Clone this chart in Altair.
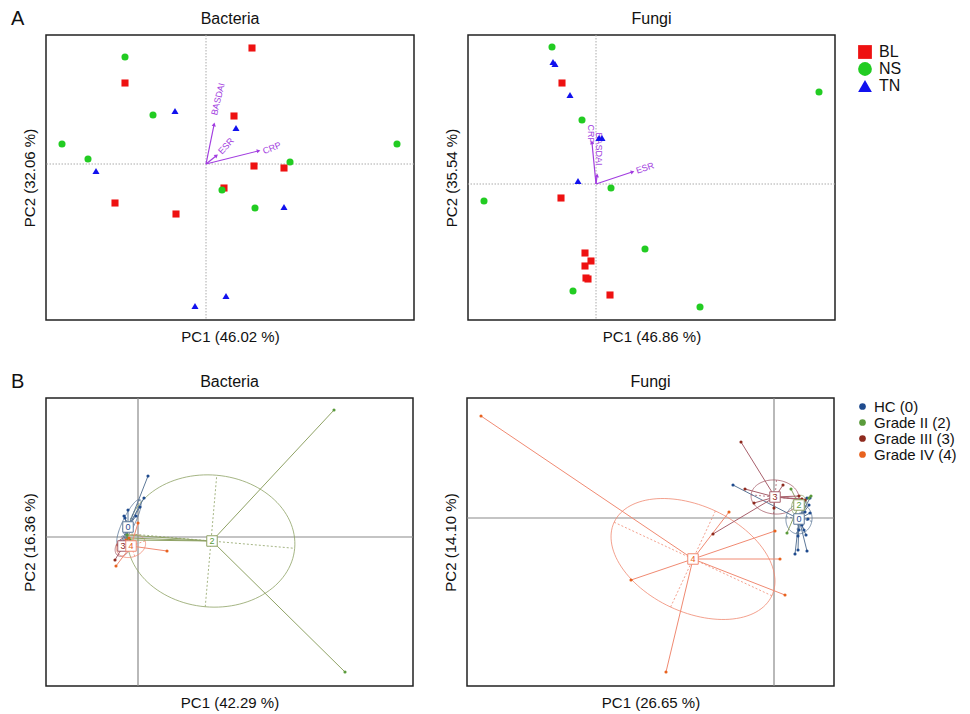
import altair as alt
import numpy as np
import pandas as pd

FONT = "Liberation Sans"
PURPLE = "#a23de0"

# ---------------- Panel A : PCA with clinical vectors ----------------
A_groups = ["BL", "NS", "TN"]
A_colors = ["#ee1111", "#22cc22", "#1111ee"]
A_shapes = ["square", "circle", "triangle-up"]

bacA_BL_x = [0.46, -0.81, 0.28, 0.48, 0.78, 0.18, -0.91, -0.30]
bacA_BL_y = [1.16, 0.81, 0.48, -0.02, -0.04, -0.24, -0.39, -0.50]
bacA_NS_x = [-0.81, -0.53, -1.44, -1.18, 1.91, 0.84, 0.16, 0.49]
bacA_NS_y = [1.07, 0.49, 0.20, 0.05, 0.20, 0.02, -0.26, -0.44]
bacA_TN_x = [-0.31, 0.30, -1.10, 0.78, 0.20, -0.11]
bacA_TN_y = [0.53, 0.36, -0.07, -0.43, -1.32, -1.42]
bacA_vec_names = ["BASDAI", "ESR", "CRP"]
bacA_vec_x = [0.08, 0.10, 0.52]
bacA_vec_y = [0.39, 0.08, 0.13]
bacA_lab_x = [0.12, 0.20, 0.66]
bacA_lab_y = [0.65, 0.18, 0.16]
bacA_lab_angle = [284, 313, 338]

funA_BL_x = [-0.34, -0.35, -0.11, -0.05, -0.11, -0.10, -0.08, 0.14]
funA_BL_y = [1.01, -0.14, -0.69, -0.77, -0.82, -0.94, -0.95, -1.11]
funA_NS_x = [-0.44, 2.23, -0.14, 0.15, -1.12, 0.49, -0.23, 1.04]
funA_NS_y = [1.37, 0.92, 0.64, -0.04, -0.17, -0.65, -1.07, -1.23]
funA_TN_x = [-0.43, -0.41, -0.26, 0.03, 0.06, -0.18]
funA_TN_y = [1.22, 1.20, 0.89, 0.46, 0.46, 0.03]
funA_vec_names = ["CRP", "BASDAI", "ESR"]
funA_vec_x = [-0.04, 0.01, 0.36]
funA_vec_y = [0.41, 0.08, 0.12]
funA_lab_x = [-0.05, 0.03, 0.49]
funA_lab_y = [0.50, 0.35, 0.16]
funA_lab_angle = [90, 90, 342]

# ---------------- Panel B : PCoA with group centroids ----------------
B_groups = ["HC (0)", "Grade II (2)", "Grade III (3)", "Grade IV (4)"]
B_codes = ["0", "2", "3", "4"]
B_point_colors = ["#1f4b8e", "#5a9b3b", "#8e2a1e", "#e8621e"]
B_line_colors = ["#5d7898", "#8fa265", "#a8606c", "#f08a72"]

bacB_cx = [-0.10, 0.74, -0.15, -0.07]
bacB_cy = [0.10, -0.04, -0.09, -0.09]
bacB_px = [
    [0.10, 0.06, 0.02, -0.10, -0.14, -0.13, -0.02, -0.14, -0.17, -0.15, -0.13, -0.11],
    [1.96, 2.07, -0.10, -0.08, -0.11],
    [-0.23, -0.18, -0.16, -0.20],
    [0.00, 0.29, -0.22, -0.09, -0.12],
]
bacB_py = [
    [0.61, 0.39, 0.30, 0.27, 0.21, 0.19, 0.21, 0.08, -0.05, -0.05, -0.05, -0.04],
    [1.27, -1.35, -0.01, -0.03, 0.02],
    [-0.23, -0.05, -0.06, -0.08],
    [0.14, -0.14, -0.29, -0.01, -0.03],
]
bacB_ell_cx = [-0.09, 0.73, -0.15, -0.07]
bacB_ell_cy = [0.15, -0.04, -0.10, -0.09]
bacB_ell_a = [0.25, 0.84, 0.10, 0.15]
bacB_ell_b = [0.06, 0.66, 0.07, 0.11]
bacB_ell_ang = [64, -5, 60, 20]

funB_cx = [0.25, 0.25, 0.01, -0.81]
funB_cy = [-0.01, 0.13, 0.21, -0.41]
funB_px = [
    [-0.41, 0.33, 0.36, 0.35, 0.31, 0.36, 0.34, 0.28, 0.25, 0.30, 0.24, 0.32, 0.21, 0.24, 0.33],
    [0.17, 0.13, 0.35, 0.26, 0.37],
    [-0.33, -0.29, -0.20, 0.00, 0.09, -0.61, 0.25, 0.28, 0.31],
    [-2.93, -0.45, 0.01, 0.06, 0.11, -1.43, -1.08],
]
funB_py = [
    [0.33, 0.20, 0.20, 0.13, 0.06, 0.05, -0.01, -0.07, -0.12, -0.12, -0.18, -0.17, -0.36, -0.32, -0.33],
    [0.29, -0.15, 0.20, 0.18, 0.22],
    [0.76, 0.29, 0.15, 0.10, 0.33, -0.16, 0.22, 0.19, 0.18],
    [1.02, 0.06, -0.13, -0.41, -0.77, -0.62, -1.54],
]
funB_ell_cx = [0.25, 0.25, 0.01, -0.81]
funB_ell_cy = [-0.01, 0.13, 0.21, -0.41]
funB_ell_a = [0.15, 0.10, 0.24, 0.87]
funB_ell_b = [0.13, 0.07, 0.17, 0.53]
funB_ell_ang = [80, 70, -5, -25]


def make_xy(xdom, ydom, xt, yt):
    ax = alt.Axis(labels=False, ticks=False, domain=False, grid=False, titlePadding=9)
    def X(f):
        return alt.X(f"{f}:Q", scale=alt.Scale(domain=xdom, nice=False, zero=False), axis=ax, title=xt)
    def Y(f):
        return alt.Y(f"{f}:Q", scale=alt.Scale(domain=ydom, nice=False, zero=False), axis=ax, title=yt)
    return X, Y


def header_layers(title, w, letter):
    out = [alt.Chart(pd.DataFrame({"t": [title]})).mark_text(
        font=FONT, fontSize=16, align="center", baseline="middle", color="#111"
    ).encode(text="t:N", x=alt.value(w / 2), y=alt.value(-16))]
    if letter:
        out.append(alt.Chart(pd.DataFrame({"t": [letter]})).mark_text(
            font=FONT, fontSize=20, align="left", baseline="middle", color="#111"
        ).encode(text="t:N", x=alt.value(-35), y=alt.value(-16)))
    return out


def panelA(BLx, BLy, NSx, NSy, TNx, TNy, vn, vx, vy, lx, ly, la,
           xdom, ydom, title, xt, yt, legend, letter=None):
    X, Y = make_xy(xdom, ydom, xt, yt)
    w = round((xdom[1] - xdom[0]) * 100)
    h = round((ydom[1] - ydom[0]) * 100)
    pts = pd.DataFrame({
        "x": BLx + NSx + TNx,
        "y": BLy + NSy + TNy,
        "g": ["BL"] * len(BLx) + ["NS"] * len(NSx) + ["TN"] * len(TNx),
    })
    vec = pd.DataFrame({"name": vn, "x": vx, "y": vy, "lx": lx, "ly": ly, "la": la})
    vec["x0"] = 0.0
    vec["y0"] = 0.0
    vec["ha"] = (np.degrees(np.arctan2(vec["x"], vec["y"])) + 360) % 360
    zero = pd.DataFrame({"x": [0.0], "y": [0.0]})

    vline = alt.Chart(zero).mark_rule(color="#aaaaaa", strokeDash=[1.5, 1.5], strokeWidth=1).encode(x=X("x"))
    hline = alt.Chart(zero).mark_rule(color="#aaaaaa", strokeDash=[1.5, 1.5], strokeWidth=1).encode(y=Y("y"))
    leg = alt.Legend(title=None, orient="none", legendX=w + 22, legendY=9, symbolSize=190,
                     labelFontSize=16, labelFont=FONT, labelColor="#111", rowPadding=1,
                     labelOffset=6, symbolStrokeWidth=0) if legend else None
    points = alt.Chart(pts).mark_point(filled=True, size=50, opacity=1).encode(
        x=X("x"), y=Y("y"),
        color=alt.Color("g:N", scale=alt.Scale(domain=A_groups, range=A_colors), legend=leg),
        shape=alt.Shape("g:N", scale=alt.Scale(domain=A_groups, range=A_shapes), legend=leg),
    )
    arrows = alt.Chart(vec).mark_rule(color=PURPLE, strokeWidth=1.2).encode(
        x=X("x0"), y=Y("y0"), x2="x:Q", y2="y:Q")
    heads = alt.Chart(vec).mark_point(shape="triangle", filled=True, size=18, color=PURPLE, opacity=1).encode(
        x=X("x"), y=Y("y"), angle=alt.Angle("ha:Q", scale=None))
    labels = alt.Chart(vec).mark_text(font=FONT, fontSize=9, color=PURPLE).encode(
        x=X("lx"), y=Y("ly"), text="name:N", angle=alt.Angle("la:Q", scale=None))
    layers = [vline, hline, arrows, heads, labels, points] + header_layers(title, w, letter)
    return alt.layer(*layers).properties(width=w, height=h)


def panelB(cx, cy, px, py, ecx, ecy, ea, eb, eang, xdom, ydom, title, xt, yt, legend, letter=None):
    X, Y = make_xy(xdom, ydom, xt, yt)
    w = round((xdom[1] - xdom[0]) * 100)
    h = round((ydom[1] - ydom[0]) * 100)
    cs = alt.Scale(domain=B_groups, range=B_point_colors)
    ss = alt.Scale(domain=B_codes, range=B_line_colors)
    fs = alt.Scale(domain=B_codes, range=B_point_colors)

    spokes = []
    for g, c, x0, y0, xs, ys in zip(B_groups, B_codes, cx, cy, px, py):
        for xx, yy in zip(xs, ys):
            spokes.append({"g": g, "code": c, "cx": x0, "cy": y0, "x": xx, "y": yy})
    spokes = pd.DataFrame(spokes)
    cent = pd.DataFrame({"g": B_groups, "code": B_codes, "x": cx, "y": cy})

    t = np.linspace(0, 2 * np.pi, 121)
    ell, axes = [], []
    for c, x0, y0, a, b, th in zip(B_codes, ecx, ecy, ea, eb, eang):
        r = np.radians(th)
        xs = x0 + a * np.cos(t) * np.cos(r) - b * np.sin(t) * np.sin(r)
        ys = y0 + a * np.cos(t) * np.sin(r) + b * np.sin(t) * np.cos(r)
        for i, (xx, yy) in enumerate(zip(xs, ys)):
            ell.append({"code": c, "i": i, "x": xx, "y": yy})
        axes.append({"code": c, "x": x0 - a * np.cos(r), "y": y0 - a * np.sin(r),
                     "x2": x0 + a * np.cos(r), "y2": y0 + a * np.sin(r)})
        axes.append({"code": c, "x": x0 + b * np.sin(r), "y": y0 - b * np.cos(r),
                     "x2": x0 - b * np.sin(r), "y2": y0 + b * np.cos(r)})
    ell = pd.DataFrame(ell)
    axes = pd.DataFrame(axes)
    zero = pd.DataFrame({"x": [0.0], "y": [0.0]})

    vline = alt.Chart(zero).mark_rule(color="#8a8a8a", strokeWidth=1.2).encode(x=X("x"))
    hline = alt.Chart(zero).mark_rule(color="#8a8a8a", strokeWidth=1.2).encode(y=Y("y"))
    ellipse = alt.Chart(ell).mark_line(strokeWidth=1, opacity=0.8).encode(
        x=X("x"), y=Y("y"), order="i:Q", detail="code:N",
        stroke=alt.Stroke("code:N", scale=ss, legend=None))
    eaxes = alt.Chart(axes).mark_rule(strokeWidth=1, strokeDash=[2, 2], opacity=0.8).encode(
        x=X("x"), y=Y("y"), x2="x2:Q", y2="y2:Q",
        stroke=alt.Stroke("code:N", scale=ss, legend=None))
    sp = alt.Chart(spokes).mark_rule(strokeWidth=1).encode(
        x=X("cx"), y=Y("cy"), x2="x:Q", y2="y:Q",
        stroke=alt.Stroke("code:N", scale=ss, legend=None))
    leg = alt.Legend(title=None, orient="none", legendX=w + 21, legendY=1, symbolSize=45,
                     labelFontSize=15, labelFont=FONT, labelColor="#111", rowPadding=0,
                     labelOffset=4, symbolType="circle", symbolStrokeWidth=0) if legend else None
    dots = alt.Chart(spokes).mark_circle(size=10, opacity=1).encode(
        x=X("x"), y=Y("y"), color=alt.Color("g:N", scale=cs, legend=leg))
    boxes = alt.Chart(cent).mark_square(size=110, fill="white", strokeWidth=1, opacity=1).encode(
        x=X("x"), y=Y("y"), stroke=alt.Stroke("code:N", scale=ss, legend=None))
    texts = alt.Chart(cent).mark_text(font=FONT, fontSize=9).encode(
        x=X("x"), y=Y("y"), text="code:N",
        fill=alt.Fill("code:N", scale=fs, legend=None))
    layers = [vline, hline, ellipse, eaxes, sp, dots, boxes, texts] + header_layers(title, w, letter)
    return alt.layer(*layers).properties(width=w, height=h)


pA1 = panelA(bacA_BL_x, bacA_BL_y, bacA_NS_x, bacA_NS_y, bacA_TN_x, bacA_TN_y,
             bacA_vec_names, bacA_vec_x, bacA_vec_y, bacA_lab_x, bacA_lab_y, bacA_lab_angle,
             [-1.60, 2.08], [-1.56, 1.29], "Bacteria", "PC1 (46.02 %)", "PC2 (32.06 %)",
             legend=False, letter="A")
pA2 = panelA(funA_BL_x, funA_BL_y, funA_NS_x, funA_NS_y, funA_TN_x, funA_TN_y,
             funA_vec_names, funA_vec_x, funA_vec_y, funA_lab_x, funA_lab_y, funA_lab_angle,
             [-1.28, 2.39], [-1.36, 1.49], "Fungi", "PC1 (46.86 %)", "PC2 (35.54 %)",
             legend=True)
pB1 = panelB(bacB_cx, bacB_cy, bacB_px, bacB_py, bacB_ell_cx, bacB_ell_cy, bacB_ell_a,
             bacB_ell_b, bacB_ell_ang, [-0.92, 2.75], [-1.49, 1.39], "Bacteria",
             "PC1 (42.29 %)", "PC2 (16.36 %)", legend=False, letter="B")
pB2 = panelB(funB_cx, funB_cy, funB_px, funB_py, funB_ell_cx, funB_ell_cy, funB_ell_a,
             funB_ell_b, funB_ell_ang, [-3.07, 0.60], [-1.68, 1.20], "Fungi",
             "PC1 (26.65 %)", "PC2 (14.10 %)", legend=True)

indep = dict(color="independent", shape="independent", stroke="independent", fill="independent")
row1 = alt.hconcat(pA1, pA2, spacing=27).resolve_scale(**indep)
row2 = alt.hconcat(pB1, pB2, spacing=27).resolve_scale(**indep)

chart = alt.vconcat(row1, row2, spacing=26).resolve_scale(**indep).properties(
    padding={"left": 2, "top": 0, "right": 2, "bottom": 0}
).configure_view(stroke="#222", strokeWidth=1.5).configure_axis(
    titleFont=FONT, titleFontSize=15, titleFontWeight="normal", titleColor="#111"
).configure_legend(labelFont=FONT)

chart.save("out.html", embed_options={"renderer": "svg", "actions": False})
